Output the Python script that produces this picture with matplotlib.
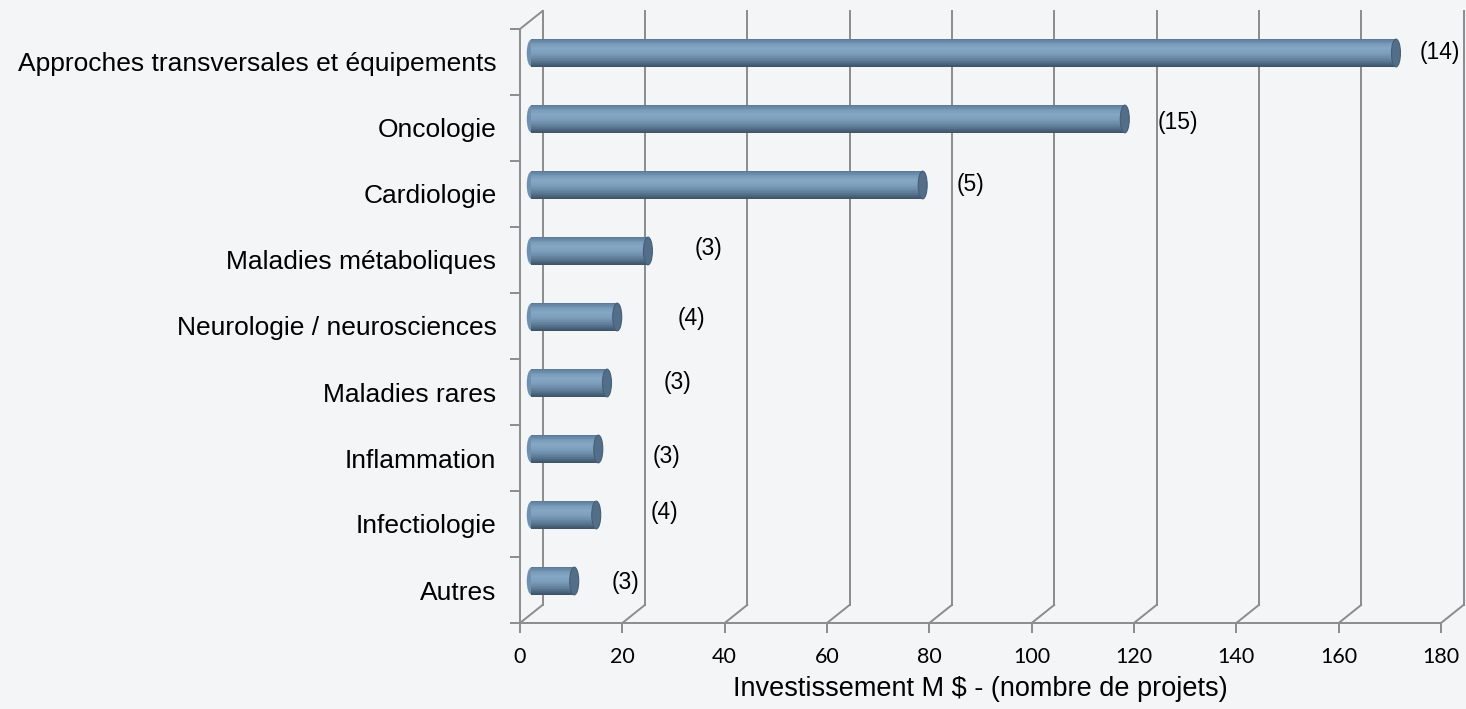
import matplotlib
matplotlib.use("Agg")
import matplotlib.pyplot as plt
from matplotlib.patches import Ellipse
from matplotlib.colors import LinearSegmentedColormap

# data
categories = ["Approches transversales et équipements", "Oncologie", "Cardiologie",
              "Maladies métaboliques", "Neurologie / neurosciences", "Maladies rares",
              "Inflammation", "Infectiologie", "Autres"]
invest = [169, 116, 76.5, 22.8, 16.8, 14.8, 13.1, 12.7, 8.4]
nb_projets = [14, 15, 5, 3, 4, 3, 3, 4, 3]
xticks = [0, 20, 40, 60, 80, 100, 120, 140, 160, 180]

# where Excel left the data labels
lab_x = [175.9, 124.7, 85.4, 34.2, 30.9, 28.0, 26.0, 25.6, 18.0]
lab_y = [-0.15, 0.91, 1.86, 2.83, 3.88, 4.85, 5.98, 6.83, 7.88]

bg = "#f4f5f7"
grid = "#8c8c8c"
cmap = LinearSegmentedColormap.from_list(
    "cyl", ["#5b7b99", "#789bb9", "#84a7c4", "#7d9fbd", "#6d8daa", "#56728d", "#3f5569"])

fig = plt.figure(figsize=(14.66, 7.09), dpi=100, facecolor=bg)
ax = fig.add_axes([520 / 1466, 86 / 709, 921 / 1466, 594 / 709])
ax.set_facecolor("none")
ax.set_xlim(0, 180)
ax.set_ylim(8.5, -0.5)

px_x = ax.bbox.width / 180
px_y = ax.bbox.height / 9
DX = 22.5 / px_x
DY = 18 / px_y

# floor diagonals + back wall gridlines
for t in xticks:
    ax.plot([t, t + DX], [8.5, 8.5 - DY], color=grid, lw=1.4, clip_on=False, zorder=1)
    ax.plot([t + DX, t + DX], [8.5 - DY, -0.5 - DY], color=grid, lw=1.4, clip_on=False, zorder=1)
ax.plot([0, DX], [-0.5, -0.5 - DY], color=grid, lw=1.4, clip_on=False, zorder=1)

# cylinders
n = 40
bh = 0.42
yc = [i - DY / 2 for i in range(len(categories))]
x0 = DX / 2
ew = 9 / px_x
for i in range(len(categories)):
    ax.add_patch(Ellipse((x0, yc[i]), ew, bh * 0.97, facecolor="#6f91af", edgecolor="none",
                         zorder=2, clip_on=False))
for k in range(n):
    ys = [y - bh / 2 + (k + 0.5) * bh / n for y in yc]
    ax.barh(ys, invest, height=bh / n * 1.15, left=x0, color=cmap(k / (n - 1)),
            linewidth=0, zorder=3, clip_on=False)
for i, v in enumerate(invest):
    ax.add_patch(Ellipse((x0 + v, yc[i]), ew, bh, facecolor="#526e89", edgecolor="#465f78",
                         lw=0.8, zorder=4, clip_on=False))

for i, p in enumerate(nb_projets):
    ax.text(lab_x[i], lab_y[i], "(%d)" % p, ha="left", va="center",
            fontsize=16.5, family="Liberation Sans", color="black", zorder=5)

# axes
for s in ["top", "right"]:
    ax.spines[s].set_visible(False)
for s in ["left", "bottom"]:
    ax.spines[s].set_color(grid)
    ax.spines[s].set_linewidth(1.4)

ax.set_yticks(range(len(categories)))
ax.set_yticklabels(categories, fontsize=19, family="Liberation Sans")
ax.set_yticks([i - 0.5 for i in range(len(categories) + 1)], minor=True)
ax.tick_params(axis="y", which="major", length=0, pad=17)
ax.tick_params(axis="y", which="minor", length=7, width=1.4, color=grid)

ax.set_xticks(xticks)
ax.set_xticklabels([str(t) for t in xticks], fontsize=15.5, family="Lato")
ax.tick_params(axis="x", length=7, width=1.4, color=grid, pad=10)
ax.set_xlabel("Investissement M $ - (nombre de projets)", fontsize=19.5,
              family="Liberation Sans", labelpad=7)

fig.savefig("out.png", dpi=100, facecolor=bg)
